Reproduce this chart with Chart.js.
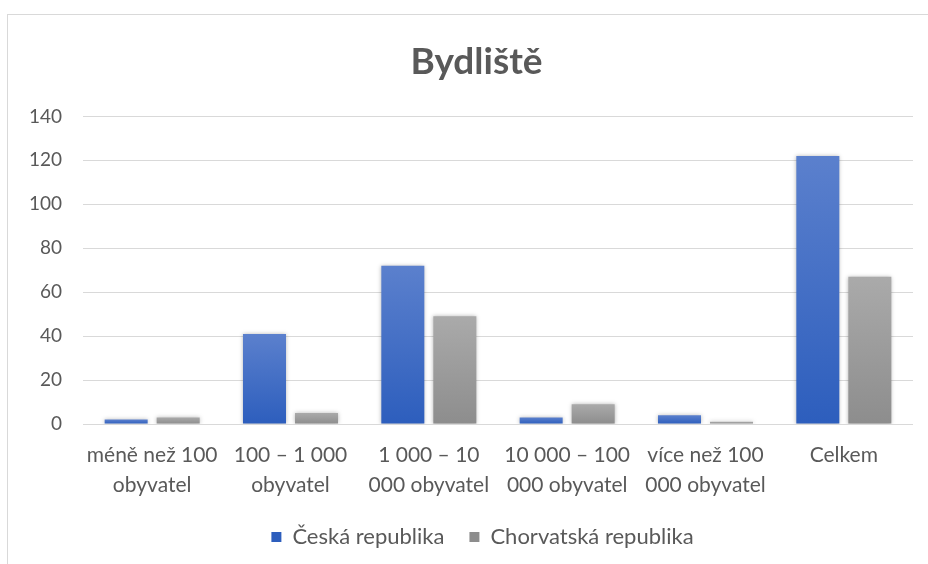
<!DOCTYPE html>
<html>
<head>
<meta charset="utf-8">
<script src="https://cdn.jsdelivr.net/npm/chart.js@4.4.1/dist/chart.umd.min.js"></script>
<style>
  html, body { margin: 0; padding: 0; background: #fff; overflow: hidden; width: 928px; height: 564px; }
  #frame { position: absolute; left: 7px; top: 14px; width: 938px; height: 560px; border: 1px solid #d9d9d9; }
  canvas { display: block; }
</style>
</head>
<body>
<div id="frame"><canvas id="chart" width="938" height="549"></canvas></div>
<script>
// data
const categories = [
  ['méně než 100', 'obyvatel'],
  ['100 – 1 000', 'obyvatel'],
  ['1 000 – 10', '000 obyvatel'],
  ['10 000 – 100', '000 obyvatel'],
  ['více než 100', '000 obyvatel'],
  'Celkem'
];
const czechValues = [2, 41, 72, 3, 4, 122];
const croatiaValues = [3, 5, 49, 9, 1, 67];
const seriesNames = ['Česká republika', 'Chorvatská republika'];
const yTicks = [0, 20, 40, 60, 80, 100, 120, 140];

const textColor = '#595959';
const gridColor = '#d9d9d9';
const fontFamily = "Lato, 'Open Sans', sans-serif";

// each bar gets its own top-to-bottom gradient, like the Office style
function barGradient(light, dark, solid) {
    return function(context) {
        const chart = context.chart;
        if (!chart.chartArea || context.raw === undefined) return solid;
        const ys = chart.scales.y;
        const top = ys.getPixelForValue(context.raw);
        const bottom = ys.getPixelForValue(0);
        if (!isFinite(top) || bottom - top < 1) return solid;
        const g = chart.ctx.createLinearGradient(0, top, 0, bottom);
        g.addColorStop(0, light);
        g.addColorStop(1, dark);
        return g;
    };
}

const barShadow = {
    id: 'barShadow',
    beforeDatasetsDraw(chart) {
        const ctx = chart.ctx;
        ctx.save();
        ctx.shadowColor = 'rgba(0,0,0,0.28)';
        ctx.shadowBlur = 4;
        ctx.shadowOffsetX = 0;
        ctx.shadowOffsetY = 0;
    },
    afterDatasetsDraw(chart) {
        chart.ctx.restore();
    }
};

// fixed legend height, and title/legend centred on the whole frame, not just the plot
const boxTweaks = {
    id: 'boxTweaks',
    beforeInit(chart) {
        const fit = chart.legend.fit;
        chart.legend.fit = function() {
            fit.bind(chart.legend)();
            this.height = 63;
        };
    },
    afterLayout(chart) {
        chart.titleBlock.left += 16;
        chart.titleBlock.right += 16;
        chart.legend.left += 22;
        chart.legend.right += 22;
    }
};

new Chart(document.getElementById('chart'), {
    type: 'bar',
    data: {
        labels: categories,
        datasets: [
            {
                label: seriesNames[0],
                data: czechValues,
                backgroundColor: barGradient('#5b80cd', '#2d5ebd', '#4370c6'),
                borderWidth: 0,
                categoryPercentage: 0.752,
                barPercentage: 0.827
            },
            {
                label: seriesNames[1],
                data: croatiaValues,
                backgroundColor: barGradient('#aaaaaa', '#8d8d8d', '#9c9c9c'),
                borderWidth: 0,
                categoryPercentage: 0.752,
                barPercentage: 0.827
            }
        ]
    },
    options: {
        responsive: false,
        animation: false,
        layout: { padding: { left: 0, right: 33, top: 0, bottom: 0 } },
        plugins: {
            title: {
                display: true,
                text: 'Bydliště',
                color: textColor,
                font: { family: fontFamily, size: 37, weight: 'bold' },
                padding: { top: 25, bottom: 32 }
            },
            legend: {
                position: 'bottom',
                labels: {
                    color: textColor,
                    font: { family: fontFamily, size: 22 },
                    boxWidth: 10,
                    boxHeight: 10,
                    padding: 25
                }
            },
            tooltip: { enabled: false }
        },
        scales: {
            x: {
                grid: { display: false },
                border: { display: false },
                ticks: {
                    color: textColor,
                    font: { family: fontFamily, size: 21, lineHeight: 1.43 },
                    padding: 8,
                    maxRotation: 0,
                    autoSkip: false
                },
                afterFit(scale) { scale.height = 77; }
            },
            y: {
                min: 0,
                max: 140,
                afterBuildTicks(scale) { scale.ticks = yTicks.map(v => ({ value: v })); },
                grid: { color: gridColor, lineWidth: 1, drawTicks: false },
                border: { display: false },
                ticks: {
                    color: textColor,
                    font: { family: fontFamily, size: 19 },
                    padding: 21
                },
                afterFit(scale) { scale.width = 75; }
            }
        }
    },
    plugins: [barShadow, boxTweaks]
});
</script>
</body>
</html>
